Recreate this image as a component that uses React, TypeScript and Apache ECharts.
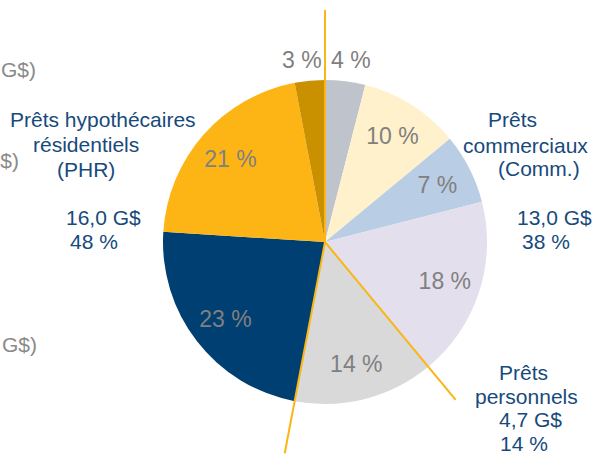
import { useEffect, useRef } from "react";
import * as echarts from "echarts";

// Slices, clockwise from 12 o'clock
const segments = ["Comm. 1", "Comm. 2", "Comm. 3", "Comm. 4", "Personnels", "PHR 1", "PHR 2", "PHR 3"];
const shares = [4, 10, 7, 18, 14, 23, 21, 3];
const sliceColors = ["#bec3cc", "#fff1cc", "#b9cde5", "#e4dfec", "#d9d9d9", "#003f72", "#fdb515", "#c99000"];
// small slices whose labels sit outside the pie
const outerLabelIdx = [0, 7];
// boundaries (cumulative share) along which yellow separator lines are drawn, with their lengths
const separatorAt = [0, 39, 53];
const separatorLen = [232, 205, 215];

const blue = "#174a7c";
const grayTxt = "#8a8a8a";
const lineColor = "#fbb515";
const font = "'Liberation Sans', Arial, sans-serif";

const groupTexts: { t: string; x: number; y: number; c: string; align?: string }[] = [
  { t: "Prêts hypothécaires", x: 10, y: 119, c: blue },
  { t: "résidentiels", x: 33, y: 144, c: blue },
  { t: "(PHR)", x: 57, y: 169, c: blue },
  { t: "16,0 G$", x: 66, y: 217, c: blue },
  { t: "48 %", x: 70, y: 241, c: blue },
  { t: "Prêts", x: 488, y: 119, c: blue },
  { t: "commerciaux", x: 463, y: 145, c: blue },
  { t: "(Comm.)", x: 498, y: 168, c: blue },
  { t: "13,0 G$", x: 517, y: 217, c: blue },
  { t: "38 %", x: 522, y: 241, c: blue },
  { t: "Prêts", x: 499, y: 372, c: blue },
  { t: "personnels", x: 475, y: 396, c: blue },
  { t: "4,7 G$", x: 499, y: 419, c: blue },
  { t: "14 %", x: 500, y: 443, c: blue },
  { t: "G$)", x: 36, y: 69, c: grayTxt, align: "right" },
  { t: "$)", x: 19, y: 160, c: grayTxt, align: "right" },
  { t: "G$)", x: 37, y: 344, c: grayTxt, align: "right" },
];

export default function App() {
  const ref = useRef<HTMLDivElement>(null);
  useEffect(() => {
    if (!ref.current) return;
    const chart = echarts.init(ref.current, null, { renderer: "svg" });
    const cx = 325;
    const cy = 242;
    const R = 162;
    const labelStyle = { fontFamily: font, fontSize: 23, color: "#808080" };

    const lines = separatorAt.map((p, i) => {
      const a = (p / 100) * Math.PI * 2;
      const L = separatorLen[i];
      return {
        type: "line",
        z: 100,
        silent: true,
        shape: { x1: cx, y1: cy, x2: cx + L * Math.sin(a), y2: cy - L * Math.cos(a) },
        style: { stroke: lineColor, lineWidth: 2 },
      };
    });

    const texts = groupTexts.map((g) => ({
      type: "text",
      z: 100,
      silent: true,
      x: g.x,
      y: g.y,
      style: {
        text: g.t,
        fill: g.c,
        font: `21px ${font}`,
        textAlign: g.align || "left",
        textVerticalAlign: "middle",
      },
    }));

    const base = segments.map((n, i) => ({ name: n, value: shares[i] }));

    chart.setOption({
      animation: false,
      series: [
        {
          type: "pie",
          silent: true,
          center: [cx, cy],
          radius: [0, R],
          startAngle: 90,
          clockwise: true,
          label: { show: false },
          labelLine: { show: false },
          itemStyle: { borderWidth: 0 },
          data: base.map((d, i) => ({ ...d, itemStyle: { color: sliceColors[i] } })),
        },
        {
          type: "pie",
          silent: true,
          center: [cx, cy],
          radius: [84, R],
          startAngle: 90,
          clockwise: true,
          avoidLabelOverlap: false,
          itemStyle: { color: "rgba(0,0,0,0)", borderWidth: 0 },
          label: { show: true, position: "inside", formatter: "{c} %", ...labelStyle },
          labelLine: { show: false },
          data: base.map((d, i) => ({
            ...d,
            label: { show: !outerLabelIdx.includes(i) },
          })),
        },
        {
          type: "pie",
          silent: true,
          center: [cx, cy],
          radius: [170, 190],
          startAngle: 90,
          clockwise: true,
          avoidLabelOverlap: false,
          itemStyle: { color: "rgba(0,0,0,0)", borderWidth: 0 },
          label: { show: true, position: "inside", formatter: "{c} %", ...labelStyle },
          labelLine: { show: false },
          data: base.map((d, i) => ({
            ...d,
            label: {
              show: outerLabelIdx.includes(i),
              padding: i === 7 ? [0, 12, 0, 0] : [0, 0, 0, 6],
            },
          })),
        },
      ],
      graphic: [...lines, ...texts],
    });
    return () => chart.dispose();
  }, []);
  return (
    <div
      ref={ref}
      style={{ position: "absolute", left: 0, top: 0, width: 594, height: 455 }}
    />
  );
}
